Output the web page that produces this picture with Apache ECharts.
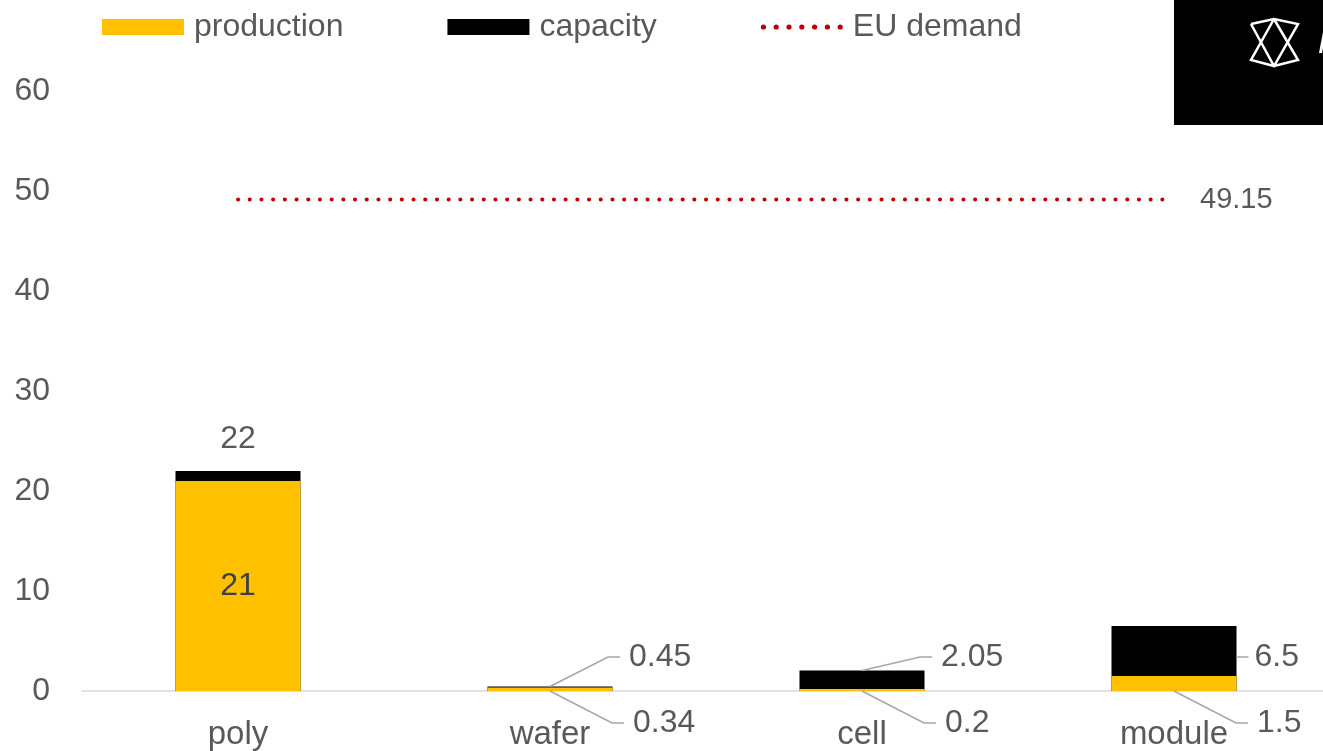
<!DOCTYPE html>
<html>
<head>
<meta charset="utf-8">
<script src="https://cdn.jsdelivr.net/npm/echarts@6/dist/echarts.min.js"></script>
<style>
  html, body { margin: 0; padding: 0; background: #ffffff; overflow: hidden; }
  /* the plot's last band runs a little past the right edge of the window */
  #chart { width: 1330px; height: 751px; }
</style>
</head>
<body>
<div id="chart"></div>
<script>
// Supply chain stages and their values (GW)
const categories = ['poly', 'wafer', 'cell', 'module'];
const production = [21, 0.34, 0.2, 1.5];
const capacity = [22, 0.45, 2.05, 6.5];
const euDemand = 49.15;
const yTicks = { min: 0, max: 60, interval: 10 };

const FONT = '"Liberation Sans", Arial, sans-serif';
const TEXT_GRAY = '#595959';
const YELLOW = '#FFC000';
const RED = '#C00000';
const BAR_WIDTH = 125;
// Bars tall enough get their labels drawn on the bar; short ones get leader lines.
const INLINE_MIN = 10;

// Dotted legend icon: a row of small round dots
function dotsPath(count, step, r) {
  let d = '';
  for (let k = 0; k < count; k++) {
    const cx = r + k * step;
    d += 'M' + (cx - r) + ',' + r + ' a' + r + ',' + r + ' 0 1,0 ' + (2 * r) + ',0 a' + r + ',' + r + ' 0 1,0 ' + (-2 * r) + ',0 ';
  }
  return 'path://' + d;
}

const chart = echarts.init(document.getElementById('chart'), null, { renderer: 'canvas' });

const capacityData = capacity.map(v => ({
  value: v,
  label: { show: v >= INLINE_MIN }
}));
const productionData = production.map((v, i) => ({
  value: v,
  label: { show: capacity[i] >= INLINE_MIN }
}));
const demandData = categories.map(() => euDemand);
const leaderData = categories
  .map((c, i) => [i, capacity[i], production[i]])
  .filter(d => d[1] < INLINE_MIN);

function renderLeader(params, api) {
  const idx = api.value(0);
  const cap = api.value(1);
  const prod = api.value(2);
  const base = api.coord([idx, 0]);
  const cx = base[0];
  const y0 = base[1];
  const yCap = api.coord([idx, cap])[1];
  const half = BAR_WIDTH / 2;
  const yUp = y0 - 34;
  const yLow = y0 + 32;
  const lineStyle = { stroke: '#a6a6a6', lineWidth: 1.5, fill: null };
  const label = (txt, x, y) => ({
    type: 'text',
    style: {
      text: txt, x: x, y: y, fill: TEXT_GRAY,
      font: '32px ' + FONT, textAlign: 'left', textVerticalAlign: 'middle'
    }
  });
  const children = [];
  // capacity value, above the axis
  if (yCap < yUp) {
    children.push({ type: 'polyline', shape: { points: [[cx + half, yUp], [cx + half + 12, yUp]] }, style: lineStyle });
    children.push(label(String(cap), cx + half + 18, yUp));
  } else {
    children.push({ type: 'polyline', shape: { points: [[cx, yCap], [cx + 58, yUp], [cx + 70, yUp]] }, style: lineStyle });
    children.push(label(String(cap), cx + 79, yUp));
  }
  // production value, below the axis
  children.push({ type: 'polyline', shape: { points: [[cx, y0], [cx + 62, yLow], [cx + 74, yLow]] }, style: lineStyle });
  children.push(label(String(prod), cx + 83, yLow));
  return { type: 'group', children: children };
}

const option = {
  backgroundColor: '#ffffff',
  animation: false,
  textStyle: { fontFamily: FONT },
  legend: {
    data: [
      { name: 'production', icon: 'rect' },
      { name: 'capacity', icon: 'rect' },
      { name: 'EU demand', icon: dotsPath(7, 12.8, 2.6) }
    ],
    left: 97,
    top: 6,
    itemWidth: 82,
    itemHeight: 16,
    itemGap: 104,
    textStyle: { fontSize: 32, color: TEXT_GRAY, fontFamily: FONT, padding: [0, 0, 0, 5] }
  },
  grid: { left: 82, right: 0, top: 91, bottom: 60, containLabel: false },
  xAxis: {
    type: 'category',
    data: categories,
    axisLine: { lineStyle: { color: '#d9d9d9', width: 1.5 } },
    axisTick: { show: false },
    axisLabel: { fontSize: 33, color: TEXT_GRAY, margin: 27, fontFamily: FONT }
  },
  yAxis: {
    type: 'value',
    min: yTicks.min,
    max: yTicks.max,
    interval: yTicks.interval,
    axisLine: { show: false },
    axisTick: { show: false },
    splitLine: { show: false },
    axisLabel: { fontSize: 32, color: TEXT_GRAY, margin: 32, fontFamily: FONT }
  },
  series: [
    {
      name: 'capacity',
      type: 'bar',
      data: capacityData,
      barWidth: BAR_WIDTH,
      itemStyle: { color: '#000000' },
      label: { position: 'top', distance: 16, fontSize: 32, color: TEXT_GRAY, fontFamily: FONT },
      z: 2
    },
    {
      name: 'production',
      type: 'bar',
      data: productionData,
      barWidth: BAR_WIDTH,
      barGap: '-100%',
      itemStyle: { color: YELLOW },
      label: { position: 'inside', fontSize: 32, color: '#404040', fontFamily: FONT },
      z: 3
    },
    {
      name: 'EU demand',
      type: 'line',
      data: demandData,
      symbol: 'none',
      lineStyle: { color: RED, width: 4, type: [0.1, 11.6], cap: 'round' },
      itemStyle: { color: RED },
      endLabel: {
        show: true, distance: 26, fontSize: 29, color: TEXT_GRAY, fontFamily: FONT,
        formatter: p => String(p.value)
      },
      z: 4
    },
    {
      name: 'leaders',
      type: 'custom',
      data: leaderData,
      renderItem: renderLeader,
      silent: true,
      z: 5
    }
  ],
  graphic: [
    {
      type: 'group',
      left: 1174,
      top: 0,
      children: [
        { type: 'rect', shape: { x: 0, y: 0, width: 156, height: 125 }, style: { fill: '#000000' } },
        {
          type: 'polyline',
          shape: { points: [[77, 24], [100, 19], [124, 24], [100, 66], [77, 60], [100, 19]] },
          style: { stroke: '#ffffff', lineWidth: 2.5, fill: null }
        },
        {
          type: 'polyline',
          shape: { points: [[77, 24], [100, 66], [124, 60], [100, 19]] },
          style: { stroke: '#ffffff', lineWidth: 2.5, fill: null }
        },
        {
          type: 'polygon',
          shape: { points: [[145, 53], [148, 53], [152, 32], [149, 32]] },
          style: { fill: '#ffffff' }
        }
      ]
    }
  ]
};

chart.setOption(option);
</script>
</body>
</html>
